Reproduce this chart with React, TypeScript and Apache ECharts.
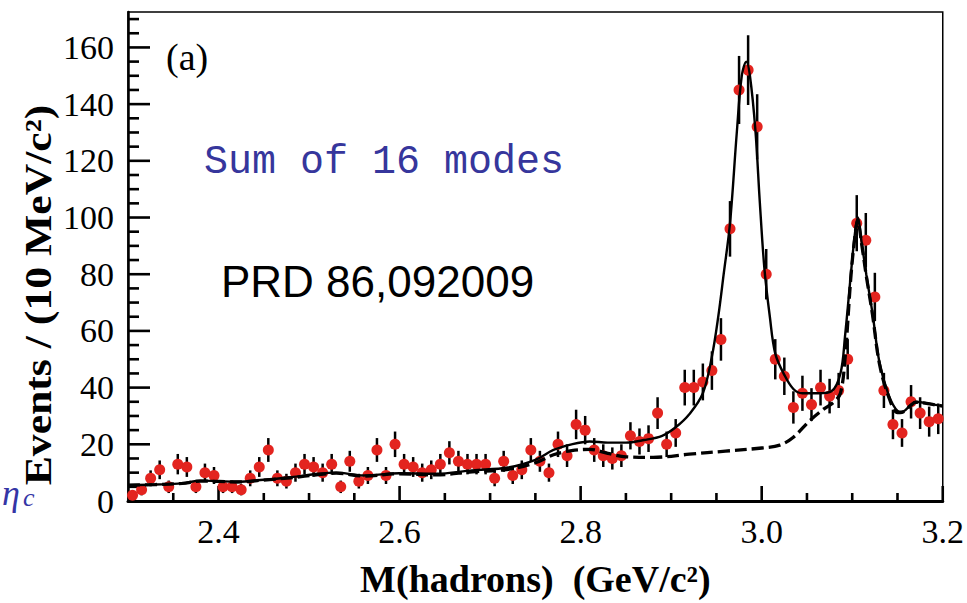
import React, { useEffect, useRef } from "react";
import * as echarts from "echarts";

// Histogram: 10 MeV bins from 2.30 to 3.20 GeV
const BIN_START = 2.305;
const BIN_WIDTH = 0.01;
const counts = [
  2, 4, 8, 11, 5, 13, 12, 5, 10, 9,
  5, 5, 4, 8, 12, 18, 8, 7, 10, 13,
  12, 10, 13, 5, 14, 7, 9, 18, 9, 20,
  13, 12, 10, 11, 13, 17, 14, 13, 13, 13,
  8, 14, 9, 11, 18, 14, 10, 20, 16, 27,
  25, 18, 16, 15, 16, 23, 21, 22, 31, 20,
  24, 40, 40, 42, 46, 57, 96, 145, 152, 132,
  80, 50, 44, 33, 38, 34, 40, 37, 39, 50,
  98, 92, 72, 39, 27, 24, 35, 31, 28, 29,
];
const errors = [
  1.4, 2.0, 2.8, 3.3, 2.2, 3.6, 3.5, 2.2, 3.2, 3.0,
  2.2, 2.2, 2.0, 2.8, 3.5, 4.2, 2.8, 2.6, 3.2, 3.6,
  3.5, 3.2, 3.6, 2.2, 3.7, 2.6, 3.0, 4.2, 3.0, 4.5,
  3.6, 3.5, 3.2, 3.3, 3.6, 4.1, 3.7, 3.6, 3.6, 3.6,
  2.8, 3.7, 3.0, 3.3, 4.2, 3.7, 3.2, 4.5, 4.0, 5.2,
  5.0, 4.2, 4.0, 3.9, 4.0, 4.8, 4.6, 4.7, 5.6, 4.5,
  4.9, 6.3, 6.3, 6.5, 6.8, 7.5, 9.8, 12.0, 12.3, 11.5,
  8.9, 7.1, 6.6, 5.7, 6.2, 5.8, 6.3, 6.1, 6.2, 7.1,
  9.9, 9.6, 8.5, 6.2, 5.2, 4.9, 5.9, 5.6, 5.3, 5.4,
];

// Total fit (solid)
const totalMass = [
  2.30, 2.33, 2.36, 2.38, 2.40, 2.42, 2.45, 2.48, 2.51, 2.53,
  2.56, 2.60, 2.64, 2.68, 2.72, 2.75, 2.77, 2.79, 2.81, 2.83,
  2.85, 2.87, 2.89, 2.905, 2.92, 2.935, 2.945, 2.952, 2.958, 2.965,
  2.9725, 2.978, 2.983, 2.987, 2.993, 2.998, 3.003, 3.009, 3.015, 3.025,
  3.035, 3.045, 3.063, 3.077, 3.087, 3.092, 3.0985, 3.1025, 3.106, 3.1105,
  3.1155, 3.1225, 3.130, 3.14, 3.15, 3.155, 3.165, 3.17, 3.19, 3.20,
];
const totalFit = [
  5.6, 5.8, 6.2, 7.2, 7.0, 6.8, 7.5, 8.4, 9.6, 10.0,
  9.0, 9.8, 9.6, 10.8, 11.8, 14.5, 18.0, 20.0, 21.0, 20.6,
  20.6, 21.5, 23.0, 26, 30.6, 38, 51, 65, 80, 98,
  130, 150, 155, 150, 131, 105, 82, 65, 52, 44.5,
  39.5, 38, 38, 38.7, 45, 58, 80, 93, 100, 91,
  80, 66, 49, 37.6, 31.8, 31.5, 34, 35, 34, 33.5,
];

// Background fit (dashed)
const bgMass = [
  2.30, 2.33, 2.36, 2.38, 2.40, 2.42, 2.45, 2.48, 2.51, 2.53,
  2.56, 2.60, 2.64, 2.68, 2.72, 2.75, 2.77, 2.79, 2.81, 2.83,
  2.85, 2.88, 2.92, 2.96, 3.00, 3.02, 3.035, 3.053, 3.068, 3.08,
  3.087, 3.092, 3.0985, 3.1025, 3.106, 3.1105, 3.1155, 3.1225, 3.130, 3.14,
  3.15, 3.155, 3.165, 3.17, 3.19, 3.20,
];
const bgFit = [
  5.6, 5.8, 6.2, 7.0, 6.9, 6.7, 7.4, 8.2, 9.3, 9.8,
  8.8, 9.6, 9.2, 10.3, 11.2, 13.5, 16.3, 17.8, 18.2, 16.8,
  15.6, 15.4, 16.5, 17.6, 18.7, 19.7, 22.5, 28.3, 32.3, 35,
  38, 50, 79, 92, 99, 90.5, 79.5, 65.5, 48.5, 37,
  31.2, 31.3, 33.8, 34.8, 34, 33.5,
];

// Axis tick values
const xMajorTicks = [2.4, 2.6, 2.8, 3.0, 3.2];
const xMinorTicks = [
  2.35, 2.45, 2.5, 2.55, 2.65, 2.7, 2.75, 2.85, 2.9, 2.95, 3.05, 3.1, 3.15,
];
const yMajorTicks = [20, 40, 60, 80, 100, 120, 140, 160];
const yMinorTicks = [
  5, 10, 15, 25, 30, 35, 45, 50, 55, 65, 70, 75, 85, 90, 95,
  105, 110, 115, 125, 130, 135, 145, 150, 155, 165, 170,
];

const X_MIN = 2.3;
const X_MAX = 3.2;
const Y_MIN = 0;
const Y_MAX = 172.5;

const SERIF = "'Liberation Serif', 'Times New Roman', serif";

export default function App() {
  const ref = useRef<HTMLDivElement>(null);

  useEffect(() => {
    if (!ref.current) return;
    const chart = echarts.init(ref.current, null, { renderer: "svg" });

    const points = counts.map((c, i) => [
      +(BIN_START + i * BIN_WIDTH).toFixed(3),
      c,
    ]);
    const bars = counts.map((c, i) => [
      +(BIN_START + i * BIN_WIDTH).toFixed(3),
      c - errors[i],
      c + errors[i],
    ]);
    const total = totalMass.map((m, i) => [m, totalFit[i]]);
    const bg = bgMass.map((m, i) => [m, bgFit[i]]);

    // tick marks: [x, y, side (0 = x axis, 1 = y axis), length in px]
    const tickData = [
      ...xMajorTicks.map((v) => [v, Y_MIN, 0, 15]),
      ...xMinorTicks.map((v) => [v, Y_MIN, 0, 8]),
      ...yMajorTicks.map((v) => [X_MIN, v, 1, 22]),
      ...yMinorTicks.map((v) => [X_MIN, v, 1, 11]),
    ];

    const option: any = {
      animation: false,
      backgroundColor: "#ffffff",
      grid: {
        left: 128,
        right: 22,
        top: 12,
        bottom: 96,
        show: true,
        borderColor: "#000",
        borderWidth: 1.5,
      },
      xAxis: {
        type: "value",
        position: "bottom",
        min: X_MIN,
        max: X_MAX,
        axisLine: { show: true, onZero: false, lineStyle: { color: "#000", width: 3 } },
        axisTick: { show: false },
        axisLabel: {
          show: true,
          customValues: xMajorTicks,
          formatter: (v: number) => v.toFixed(1),
          fontFamily: SERIF,
          fontSize: 34,
          color: "#000",
          margin: 13,
        },
        splitLine: { show: false },
        name: "M(hadrons)  (GeV/c²)",
        nameLocation: "middle",
        nameGap: 59,
        nameTextStyle: {
          fontFamily: SERIF,
          fontWeight: "bold",
          fontSize: 38,
          color: "#000",
        },
      },
      yAxis: {
        type: "value",
        position: "left",
        min: Y_MIN,
        max: Y_MAX,
        interval: 20,
        axisLine: { show: true, onZero: false, lineStyle: { color: "#000", width: 2.5 } },
        axisTick: { show: false },
        axisLabel: {
          show: true,
          showMaxLabel: false,
          fontFamily: SERIF,
          fontSize: 34,
          color: "#000",
          margin: 14,
        },
        splitLine: { show: false },
      },
      series: [
        {
          type: "custom",
          name: "ticks",
          data: tickData,
          renderItem: (params: any, api: any) => {
            const p = api.coord([api.value(0), api.value(1)]);
            const onY = api.value(2) === 1;
            const len = api.value(3);
            return {
              type: "line",
              shape: onY
                ? { x1: p[0], y1: p[1], x2: p[0] + len, y2: p[1] }
                : { x1: p[0], y1: p[1], x2: p[0], y2: p[1] - len },
              style: { stroke: "#000", lineWidth: 2.6 },
            };
          },
        },
        {
          type: "custom",
          name: "errors",
          data: bars,
          renderItem: (params: any, api: any) => {
            const x = api.value(0);
            const lo = api.coord([x, api.value(1)]);
            const hi = api.coord([x, api.value(2)]);
            return {
              type: "line",
              shape: { x1: lo[0], y1: lo[1], x2: hi[0], y2: hi[1] },
              style: { stroke: "#000", lineWidth: 2.5 },
            };
          },
        },
        {
          type: "scatter",
          name: "data",
          symbol: "circle",
          symbolSize: 11,
          itemStyle: { color: "#e3241f", opacity: 1 },
          data: points,
        },
        {
          type: "line",
          name: "background",
          smooth: 0.35,
          showSymbol: false,
          symbol: "none",
          lineStyle: { color: "#000", width: 3.3, type: [12, 5] },
          data: bg,
        },
        {
          type: "line",
          name: "total",
          smooth: 0.35,
          showSymbol: false,
          symbol: "none",
          lineStyle: { color: "#000", width: 2.4 },
          data: total,
        },
      ],
      graphic: [
        {
          type: "text",
          x: 38,
          y: 295,
          rotation: Math.PI / 2,
          scaleX: 1.15,
          style: {
            text: "Events / (10 MeV/c²)",
            fontFamily: SERIF,
            fontWeight: "bold",
            fontSize: 38,
            fill: "#000",
            align: "center",
            verticalAlign: "middle",
          },
        },
        {
          type: "text",
          x: 166,
          y: 57,
          style: {
            text: "(a)",
            fontFamily: SERIF,
            fontSize: 38,
            fill: "#000",
            align: "left",
            verticalAlign: "middle",
          },
        },
        {
          type: "text",
          x: 204,
          y: 162,
          style: {
            text: "Sum of 16 modes",
            fontFamily: "'Liberation Mono', 'DejaVu Sans Mono', monospace",
            fontSize: 40,
            fill: "#36369c",
            align: "left",
            verticalAlign: "middle",
          },
        },
        {
          type: "text",
          x: 221,
          y: 281,
          style: {
            text: "PRD 86,092009",
            fontFamily: "'Liberation Sans', Arial, sans-serif",
            fontSize: 44,
            fill: "#000",
            align: "left",
            verticalAlign: "middle",
          },
        },
        {
          type: "text",
          x: 2,
          y: 493,
          style: {
            text: "η",
            fontFamily: SERIF,
            fontStyle: "italic",
            fontSize: 36,
            fill: "#3535a5",
            align: "left",
            verticalAlign: "middle",
          },
        },
        {
          type: "text",
          x: 23,
          y: 497,
          style: {
            text: "c",
            fontFamily: SERIF,
            fontStyle: "italic",
            fontSize: 26,
            fill: "#3535a5",
            align: "left",
            verticalAlign: "middle",
          },
        },
      ],
    };

    chart.setOption(option);
    return () => chart.dispose();
  }, []);

  return (
    <div
      ref={ref}
      style={{
        position: "fixed",
        left: 0,
        top: 0,
        width: 967,
        height: 603,
        background: "#fff",
      }}
    />
  );
}
